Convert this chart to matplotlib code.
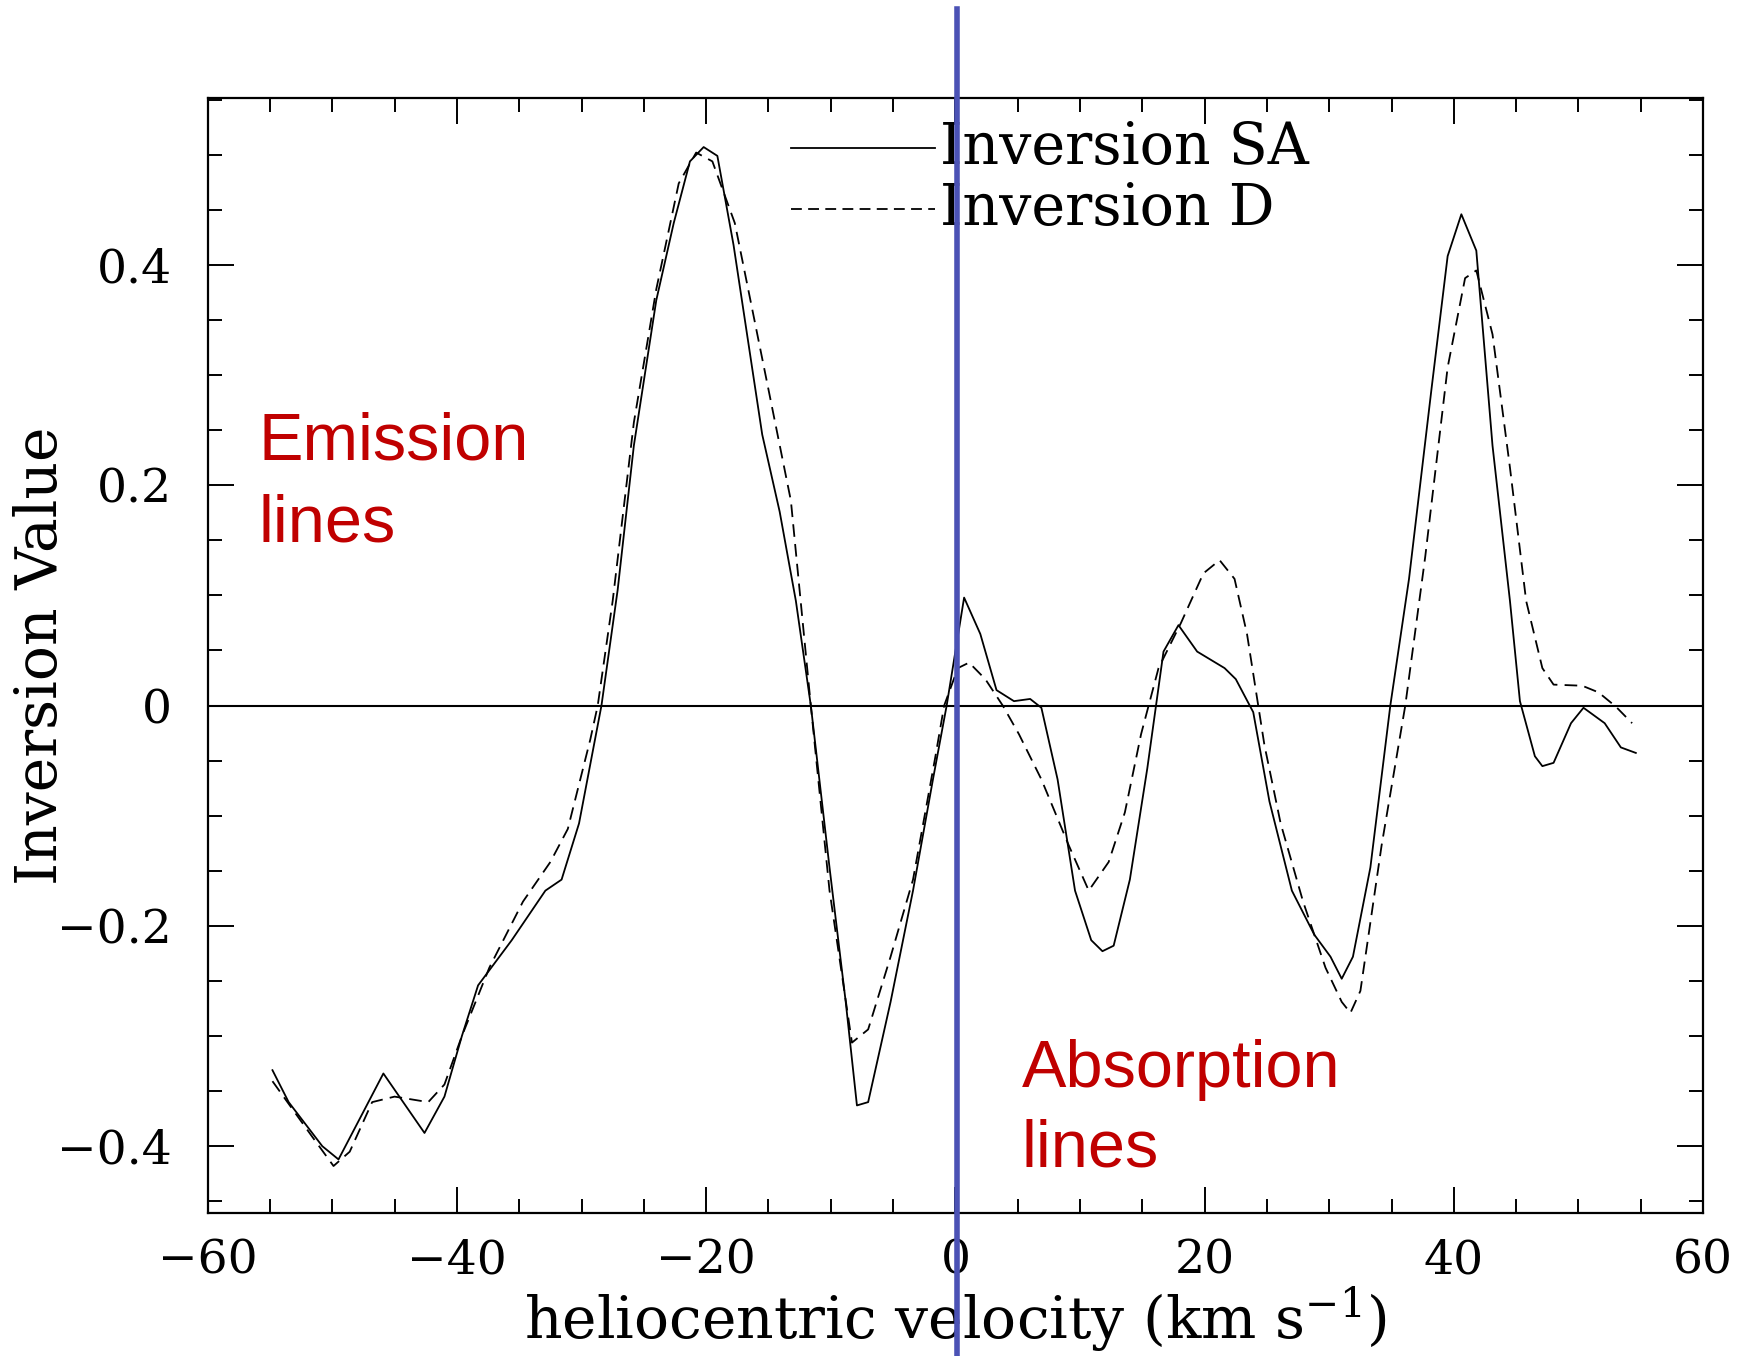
import matplotlib
matplotlib.use("Agg")
import matplotlib.pyplot as plt
import matplotlib.transforms as mtransforms
from matplotlib.ticker import MultipleLocator

# inversion profiles vs heliocentric velocity (km/s)
vel_sa = [-54.8, -53.5, -50.8, -49.5, -45.9, -42.6, -41.0, -39.6, -38.3, -35.6,
          -32.9, -31.6, -30.2, -28.4, -27.1, -25.8, -24.0, -22.6, -21.3, -20.2,
          -19.1, -17.8, -15.5, -14.1, -12.8, -11.6, -10.1, -8.8, -7.9, -7.0,
          -5.2, -3.4, -1.8, -0.7, 0.7, 2.0, 3.3, 4.7, 6.0, 6.9,
          8.2, 9.6, 10.9, 11.8, 12.7, 14.0, 15.4, 16.7, 17.9, 19.4,
          21.6, 22.5, 23.9, 25.2, 27.0, 28.8, 30.1, 31.0, 31.9, 33.3,
          34.9, 36.4, 38.2, 39.5, 40.6, 41.8, 43.1, 44.5, 45.3, 46.5,
          47.1, 48.0, 49.4, 50.4, 52.1, 53.4, 54.6]
inv_sa = [-0.331, -0.360, -0.400, -0.412, -0.334, -0.388, -0.355, -0.300, -0.254, -0.213,
          -0.168, -0.158, -0.107, 0.000, 0.105, 0.236, 0.368, 0.438, 0.494, 0.507,
          0.499, 0.418, 0.246, 0.176, 0.095, 0.000, -0.147, -0.269, -0.363, -0.360,
          -0.269, -0.168, -0.067, 0.000, 0.098, 0.065, 0.014, 0.004, 0.006, -0.002,
          -0.067, -0.168, -0.213, -0.223, -0.218, -0.158, -0.057, 0.049, 0.073, 0.049,
          0.034, 0.024, -0.006, -0.087, -0.168, -0.208, -0.228, -0.248, -0.228, -0.147,
          0.000, 0.115, 0.287, 0.408, 0.446, 0.413, 0.236, 0.095, 0.004, -0.046,
          -0.055, -0.052, -0.016, -0.002, -0.016, -0.038, -0.043]

vel_d = [-54.8, -51.7, -49.9, -48.6, -46.8, -45.0, -42.3, -41.0, -39.6, -37.4,
         -34.7, -32.5, -31.1, -29.3, -28.7, -27.5, -25.8, -24.0, -22.2, -20.8,
         -19.5, -17.7, -15.0, -13.2, -11.6, -10.1, -8.3, -7.0, -5.2, -3.4,
         -1.6, -0.9, 0.2, 1.1, 2.4, 3.8, 5.1, 6.9, 9.1, 10.7,
         12.3, 13.6, 14.9, 16.3, 18.1, 19.9, 21.2, 22.4, 23.4, 24.8,
         26.1, 27.9, 29.7, 31.0, 31.7, 32.5, 34.2, 36.1, 37.7, 39.5,
         40.9, 41.8, 43.1, 44.5, 45.8, 47.1, 48.0, 50.3, 51.6, 53.0, 54.3]
inv_d = [-0.341, -0.390, -0.418, -0.405, -0.360, -0.355, -0.360, -0.344, -0.300, -0.238,
         -0.178, -0.142, -0.112, -0.031, 0.000, 0.095, 0.257, 0.378, 0.474, 0.502,
         0.494, 0.438, 0.287, 0.186, 0.000, -0.168, -0.306, -0.294, -0.228, -0.158,
         -0.046, 0.000, 0.034, 0.039, 0.024, 0.000, -0.026, -0.067, -0.127, -0.168,
         -0.142, -0.097, -0.026, 0.034, 0.075, 0.120, 0.132, 0.115, 0.065, -0.036,
         -0.107, -0.178, -0.238, -0.269, -0.279, -0.259, -0.127, 0.000, 0.135, 0.307,
         0.388, 0.395, 0.337, 0.216, 0.095, 0.034, 0.019, 0.018, 0.012, -0.001, -0.016]

series_names = ["Inversion SA", "Inversion D"]
rest_velocity = 0.15

plt.rcParams['font.family'] = ['DejaVu Serif']
plt.rcParams['mathtext.fontset'] = 'dejavuserif'

fig = plt.figure(figsize=(17.45, 13.56), dpi=100)
ax = fig.add_axes([0.119, 0.1055, 0.857, 0.8222])

dash = (0, (7, 4))
ax.plot(vel_sa, inv_sa, color='black', lw=1.3)
ax.plot(vel_d, inv_d, color='black', lw=1.3, linestyle=dash)
ax.axhline(0, color='black', lw=1.5)

ax.set_xlim(-60, 60)
ax.set_ylim(-0.4606, 0.5515)
ax.xaxis.set_major_locator(MultipleLocator(20))
ax.xaxis.set_minor_locator(MultipleLocator(5))
ax.yaxis.set_major_locator(MultipleLocator(0.2))
ax.yaxis.set_minor_locator(MultipleLocator(0.05))
ax.yaxis.set_major_formatter(lambda v, p: '0' if abs(v) < 1e-9 else f'{v:.1f}'.replace('-', '\u2212'))
ax.tick_params(which='both', direction='in', top=True, right=True, width=1.4, labelsize=34)
ax.tick_params(which='major', length=19)
ax.tick_params(which='minor', length=10)
ax.tick_params(axis='x', pad=18)
ax.tick_params(axis='y', pad=26)
for sp in ax.spines.values():
    sp.set_linewidth(1.6)

ax.set_xlabel(r'heliocentric velocity (km s$^{-1}$)', fontsize=42, va='center')
ax.xaxis.set_label_coords(0.5, -0.0955)
ax.set_ylabel('Inversion Value', fontsize=42, va='center')
ax.yaxis.set_label_coords(-0.1117, 0.5)

# hand-drawn key, top centre
ax.plot([-13.2, -1.6], [0.506, 0.506], color='black', lw=1.3)
ax.plot([-13.2, -1.6], [0.4505, 0.4505], color='black', lw=1.3, linestyle=(0, (6, 3.5)))
ax.text(-1.2, 0.506, series_names[0], fontsize=41, va='center', ha='left')
ax.text(-1.2, 0.4505, series_names[1], fontsize=41, va='center', ha='left')

# annotations
ax.text(-55.9, 0.1485, 'Emission\nlines', family='Liberation Sans', fontsize=48,
        color='#C00000', va='baseline', ha='left', linespacing=1.42)
ax.text(5.3, -0.418, 'Absorption\nlines', family='Liberation Sans', fontsize=48,
        color='#C00000', va='baseline', ha='left', linespacing=1.36)

# blue marker at rest velocity, running past the frame
trans = mtransforms.blended_transform_factory(ax.transData, fig.transFigure)
ax.plot([rest_velocity, rest_velocity], [0.0, 1 - 9 / 1356], color='#4B52B5', lw=4,
        transform=trans, clip_on=False, zorder=5)

fig.savefig('out.png', dpi=100)
